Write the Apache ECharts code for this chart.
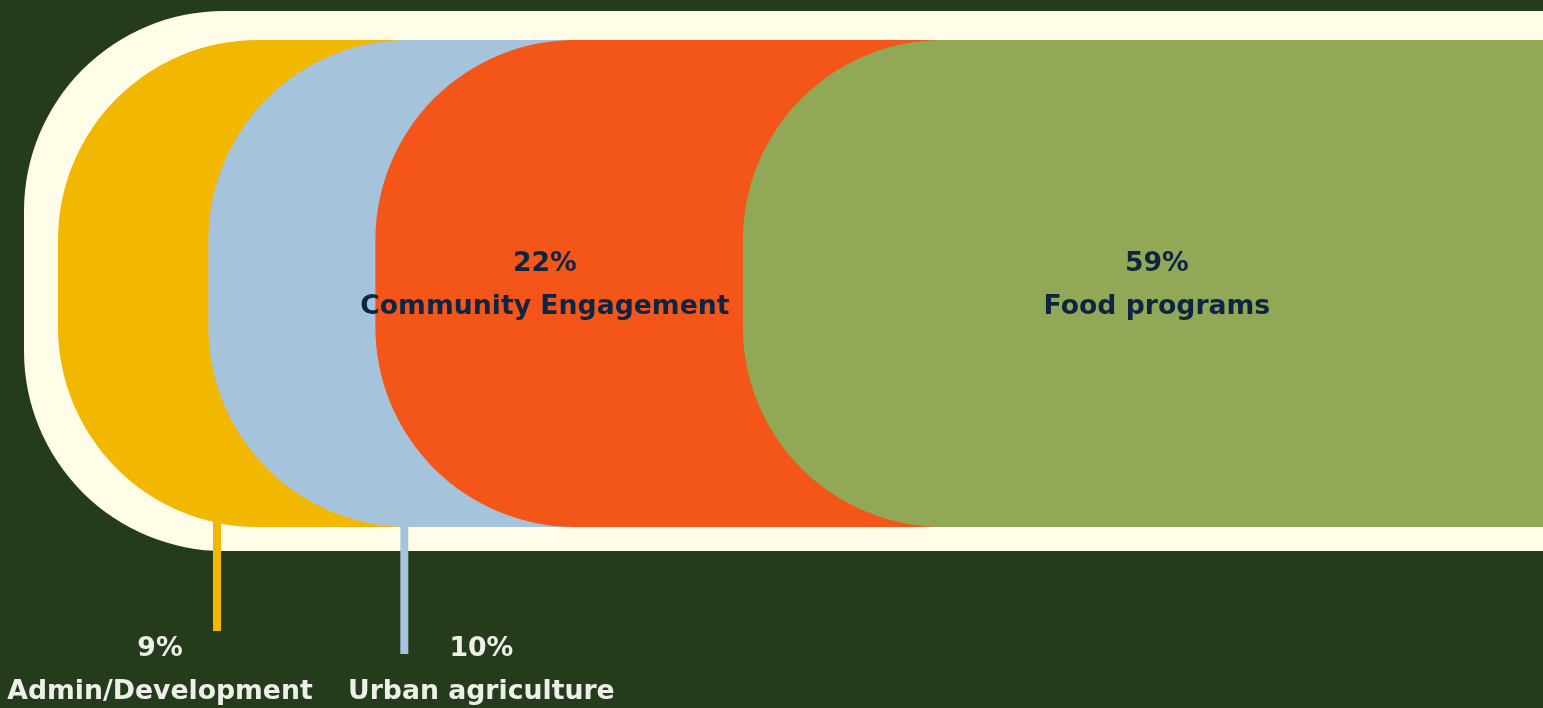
<!DOCTYPE html>
<html>
<head>
<meta charset="utf-8">
<script src="https://cdn.jsdelivr.net/npm/echarts@6/dist/echarts.min.js"></script>
<style>
html,body{margin:0;padding:0;background:#253c1c;overflow:hidden;}
#chart{width:1543px;height:708px;}
</style>
</head>
<body>
<div id="chart"></div>
<script>
// ---- data ----
const categories = ['Admin/Development', 'Urban agriculture', 'Community Engagement', 'Food programs'];
const shares = [9, 10, 22, 59];
const percentLabels = ['9%', '10%', '22%', '59%'];
const rowCategory = ['Budget'];

// ---- styles ----
const pillColors = ['#f2b700', '#a6c3dc', '#f4561a', '#91a956'];
const frameColor = '#fffde8';
const bgColor = '#253c1c';
const innerText = '#0e2541';
const outerText = '#efefe9';
const FONT = 'bold 26.7px "DejaVu Sans"';
const RADIUS = 200;
const VIEW_MAX = 88.9; // visible part of the 0–100 scale (the bar runs off the right edge)
// callout styling for the small slices (pixel offsets)
const callouts = {
  0: { lineDx: 159, lineFrom: -10, lineTo: 104, textDx: -57 },
  1: { lineDx: 196, lineFrom: -6, lineTo: 127, textDx: 77 }
};

// build cumulative ranges through data
const total = shares.reduce((a, b) => a + b, 0);
const starts = [];
let acc = 0;
shares.forEach(v => { starts.push(acc); acc += v; });
const pillData = shares.map((v, i) => [starts[i], total, i]);

const chart = echarts.init(document.getElementById('chart'), null, { renderer: 'canvas' });

function bandInfo(api, s, e) {
  const p0 = api.coord([s, 0]);
  const p1 = api.coord([e, 0]);
  const h = api.size([0, 1])[1];
  const top = p0[1] - h / 2;
  return { x0: p0[0], x1: p1[0], top, h, bottom: top + h, cy: top + h / 2 };
}

function renderFrame(params, api) {
  const b = bandInfo(api, api.value(0), api.value(1));
  return {
    type: 'rect',
    shape: { x: b.x0 - 34, y: b.top - 29, width: b.x1 - b.x0 + 300, height: b.h + 29 + 24, r: RADIUS },
    style: { fill: frameColor }
  };
}

function renderPill(params, api) {
  const i = api.value(2);
  const b = bandInfo(api, api.value(0), api.value(1));
  const children = [{
    type: 'rect',
    shape: { x: b.x0, y: b.top, width: b.x1 - b.x0 + 200, height: b.h, r: RADIUS },
    style: { fill: pillColors[i] }
  }];
  const c = callouts[i];
  if (c) {
    const lx = b.x0 + c.lineDx;
    children.push({
      type: 'rect',
      shape: { x: lx - 4, y: b.bottom + c.lineFrom, width: 8, height: c.lineTo - c.lineFrom },
      style: { fill: pillColors[i] }
    });
    const tx = lx + c.textDx;
    children.push({
      type: 'text',
      style: { text: percentLabels[i], x: tx, y: b.bottom + 122, align: 'center', verticalAlign: 'middle', font: FONT, fill: outerText }
    });
    children.push({
      type: 'text',
      style: { text: categories[i], x: tx, y: b.bottom + 165, align: 'center', verticalAlign: 'middle', font: FONT, fill: outerText }
    });
  }
  return { type: 'group', children };
}

function renderInnerLabel(params, api) {
  const i = api.value(2);
  if (callouts[i]) return null;
  const b = bandInfo(api, api.value(0), api.value(1));
  let cx;
  if (i + 1 < shares.length) {
    cx = api.coord([starts[i + 1], 0])[0] - 198;
  } else {
    cx = b.x0 + 414;
  }
  return {
    type: 'group',
    children: [
      { type: 'text', style: { text: percentLabels[i], x: cx, y: b.cy - 19, align: 'center', verticalAlign: 'middle', font: FONT, fill: innerText } },
      { type: 'text', style: { text: categories[i], x: cx, y: b.cy + 24, align: 'center', verticalAlign: 'middle', font: FONT, fill: innerText } }
    ]
  };
}

chart.setOption({
  backgroundColor: bgColor,
  animation: false,
  grid: { left: 58, right: 0, top: 40, height: 487 },
  xAxis: { type: 'value', min: 0, max: VIEW_MAX, show: false },
  yAxis: { type: 'category', data: rowCategory, show: false },
  series: [
    {
      type: 'custom', name: 'frame', clip: false,
      renderItem: renderFrame,
      encode: { x: [0, 1] },
      data: [[0, total, 0]],
      z: 1
    },
    {
      type: 'custom', name: 'shares', clip: false,
      renderItem: renderPill,
      encode: { x: [0, 1] },
      data: pillData,
      z: 2
    },
    {
      type: 'custom', name: 'labels', clip: false,
      renderItem: renderInnerLabel,
      encode: { x: [0, 1] },
      data: pillData,
      z: 3
    }
  ]
});
</script>
</body>
</html>
